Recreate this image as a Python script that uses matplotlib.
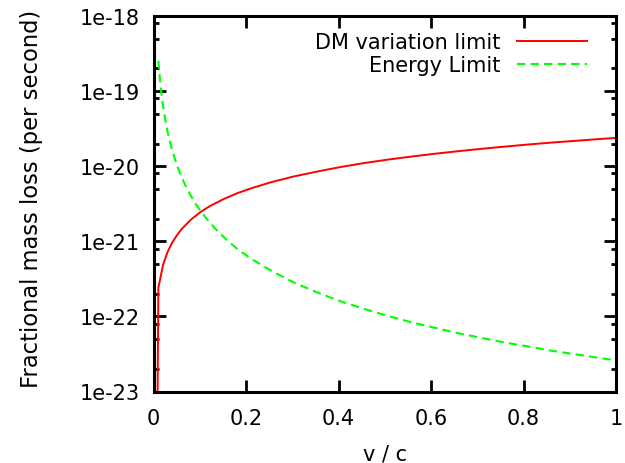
import matplotlib
matplotlib.use("Agg")
import matplotlib.pyplot as plt
from matplotlib.ticker import LogLocator, NullFormatter

plt.rcParams['font.family'] = ['DejaVu Sans']

# DM variation limit (red)
dm_v = [0.0, 0.0101, 0.0202, 0.0303, 0.0404, 0.0505, 0.0606, 0.0808, 0.101, 0.121,
        0.152, 0.182, 0.212, 0.253, 0.303, 0.354, 0.404, 0.455, 0.505, 0.556,
        0.606, 0.657, 0.707, 0.758, 0.808, 0.859, 0.909, 0.960, 1.0]
dm_y = [1e-30, 2.4e-22, 4.85e-22, 7.3e-22, 9.7e-22, 1.21e-21, 1.46e-21, 1.95e-21, 2.45e-21, 2.93e-21,
        3.67e-21, 4.4e-21, 5.1e-21, 6.1e-21, 7.3e-21, 8.5e-21, 9.75e-21, 1.1e-20, 1.22e-20, 1.34e-20,
        1.46e-20, 1.58e-20, 1.70e-20, 1.82e-20, 1.94e-20, 2.06e-20, 2.17e-20, 2.29e-20, 2.38e-20]

# Energy limit (green)
en_v = [0.0101, 0.0121, 0.0141, 0.0162, 0.0182, 0.0202, 0.0253, 0.0303, 0.0354, 0.0404,
        0.0505, 0.0606, 0.0707, 0.0808, 0.0909, 0.101, 0.121, 0.141, 0.162, 0.182,
        0.212, 0.253, 0.303, 0.354, 0.404, 0.455, 0.505, 0.556, 0.606, 0.657,
        0.707, 0.758, 0.808, 0.859, 0.909, 0.960, 1.0]
en_y = [2.55e-19, 1.78e-19, 1.31e-19, 9.9e-20, 7.8e-20, 6.4e-20, 4.1e-20, 2.83e-20, 2.08e-20, 1.59e-20,
        1.02e-20, 7.1e-21, 5.2e-21, 4.0e-21, 3.15e-21, 2.55e-21, 1.78e-21, 1.31e-21, 9.9e-22, 7.8e-22,
        5.8e-22, 4.1e-22, 2.83e-22, 2.08e-22, 1.59e-22, 1.26e-22, 1.02e-22, 8.4e-23, 7.1e-23, 6.0e-23,
        5.2e-23, 4.5e-23, 4.0e-23, 3.5e-23, 3.15e-23, 2.82e-23, 2.6e-23]

x_ticks = [0, 0.2, 0.4, 0.6, 0.8, 1]
x_ticklabels = ['0', '0.2', '0.4', '0.6', '0.8', '1']
y_ticks = [1e-23, 1e-22, 1e-21, 1e-20, 1e-19, 1e-18]
y_ticklabels = ['1e-23', '1e-22', '1e-21', '1e-20', '1e-19', '1e-18']

fs = 15
fig = plt.figure(figsize=(6.25, 4.64), dpi=100)
ax = fig.add_axes([153.7/625, 1-392.5/464, (616-153.7)/625, (392.5-17)/464])

ax.plot(dm_v, dm_y, color='#ff0000', lw=1.4, label='DM variation limit')
ax.plot(en_v, en_y, color='#00ff00', lw=1.5, dashes=(4, 2.5), label='Energy Limit')

ax.set_yscale('log')
ax.set_xlim(0, 1)
ax.set_ylim(1e-23, 1e-18)
ax.set_xticks(x_ticks)
ax.set_xticklabels(x_ticklabels)
ax.set_yticks(y_ticks)
ax.set_yticklabels(y_ticklabels)
ax.yaxis.set_minor_locator(LogLocator(base=10, subs=(2.0, 5.0, 8.0)))
ax.yaxis.set_minor_formatter(NullFormatter())

for s in ax.spines.values():
    s.set_linewidth(2.2)
ax.tick_params(which='major', direction='in', length=8.3, width=2.0, top=True, right=True,
               labelsize=fs, pad=10)
ax.tick_params(which='minor', direction='in', length=3.8, width=2.0, top=True, right=True)
ax.tick_params(axis='x', which='major', pad=12)

ax.set_xlabel('v / c', fontsize=fs, labelpad=11)
ax.set_ylabel('Fractional mass loss (per second)', fontsize=16.3)
ax.yaxis.set_label_coords((43 - 153.7) / 462.3, (392.5 - 198.5) / 375.5)

ax.legend(loc='upper right', frameon=False, markerfirst=False, fontsize=fs,
          handlelength=3.36, handletextpad=0.8, labelspacing=0.15,
          borderaxespad=0.0, borderpad=0.0,
          bbox_to_anchor=((587 - 153.7) / 462.3, (392.5 - 33) / 375.5))

fig.savefig('out.png', dpi=100)
